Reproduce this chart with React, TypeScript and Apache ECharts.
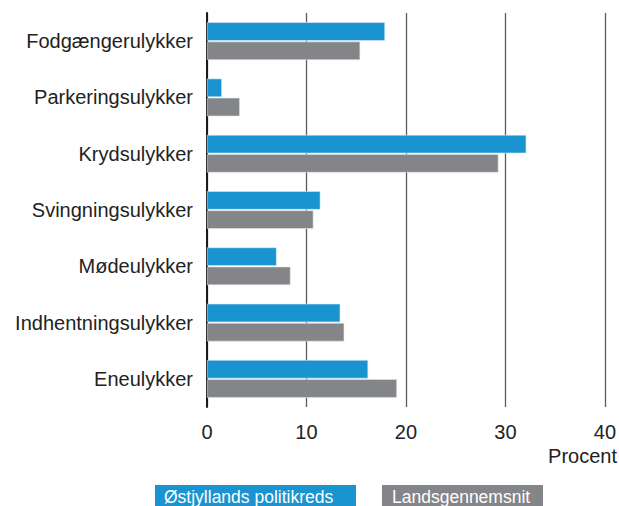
import React, { useEffect, useRef } from "react";
import * as echarts from "echarts";

const categories = [
  "Fodgængerulykker",
  "Parkeringsulykker",
  "Krydsulykker",
  "Svingningsulykker",
  "Mødeulykker",
  "Indhentningsulykker",
  "Eneulykker",
];
const ostjylland = [17.9, 1.5, 32.1, 11.4, 7.0, 13.4, 16.2];
const landsgennemsnit = [15.4, 3.3, 29.3, 10.7, 8.4, 13.8, 19.1];
const seriesNames = ["Østjyllands politikreds", "Landsgennemsnit"];
const xTicks = { min: 0, max: 40, interval: 10 };
const axisName = "Procent";

const BLUE = "#1a93d1";
const GRAY = "#848588";
const FONT = "'Liberation Sans', Arial, Helvetica, sans-serif";

export default function App() {
  const ref = useRef<HTMLDivElement>(null);
  useEffect(() => {
    if (!ref.current) return;
    const chart = echarts.init(ref.current, null, { renderer: "svg" });
    chart.setOption({
      animation: false,
      backgroundColor: "#ffffff",
      textStyle: { fontFamily: FONT },
      grid: { left: 207, right: 11, top: 13, bottom: 99, containLabel: false },
      xAxis: {
        type: "value",
        min: xTicks.min,
        max: xTicks.max,
        interval: xTicks.interval,
        axisLine: { show: false },
        axisTick: { show: false },
        splitLine: { show: true, lineStyle: { color: "#5a5a5a", width: 1.3 } },
        axisLabel: { color: "#222", fontSize: 20, margin: 15, fontFamily: FONT },
      },
      yAxis: {
        type: "category",
        inverse: true,
        data: categories,
        axisLine: { show: true, lineStyle: { color: "#1a1a1a", width: 2 } },
        axisTick: { show: false },
        axisLabel: { color: "#222", fontSize: 20, margin: 14, fontFamily: FONT },
      },
      series: [
        {
          name: seriesNames[0],
          type: "bar",
          data: ostjylland,
          barWidth: 18.5,
          barGap: "4%",
          itemStyle: { color: BLUE, borderColor: "#d8eefa", borderWidth: 0.6 },
          z: 3,
        },
        {
          name: seriesNames[1],
          type: "bar",
          data: landsgennemsnit,
          barWidth: 18.5,
          itemStyle: { color: GRAY, borderColor: "#e6e6e6", borderWidth: 0.6 },
          z: 3,
        },
      ],
      graphic: [
        {
          type: "text",
          right: 2,
          top: 446,
          style: { text: axisName, fill: "#222", fontSize: 20, fontFamily: FONT },
        },
        {
          type: "rect",
          shape: { x: 155, y: 485, width: 201, height: 30 },
          style: { fill: BLUE },
        },
        {
          type: "text",
          x: 164,
          y: 506,
          style: {
            text: seriesNames[0],
            fill: "#ffffff",
            fontSize: 17.5,
            fontFamily: FONT,
            verticalAlign: "bottom",
          },
        },
        {
          type: "rect",
          shape: { x: 382, y: 485, width: 161, height: 30 },
          style: { fill: GRAY },
        },
        {
          type: "text",
          x: 392,
          y: 506,
          style: {
            text: seriesNames[1],
            fill: "#ffffff",
            fontSize: 17.5,
            fontFamily: FONT,
            verticalAlign: "bottom",
          },
        },
      ],
    });
    return () => chart.dispose();
  }, []);
  return (
    <div
      ref={ref}
      style={{ position: "fixed", left: 0, top: 0, width: 619, height: 506 }}
    />
  );
}
